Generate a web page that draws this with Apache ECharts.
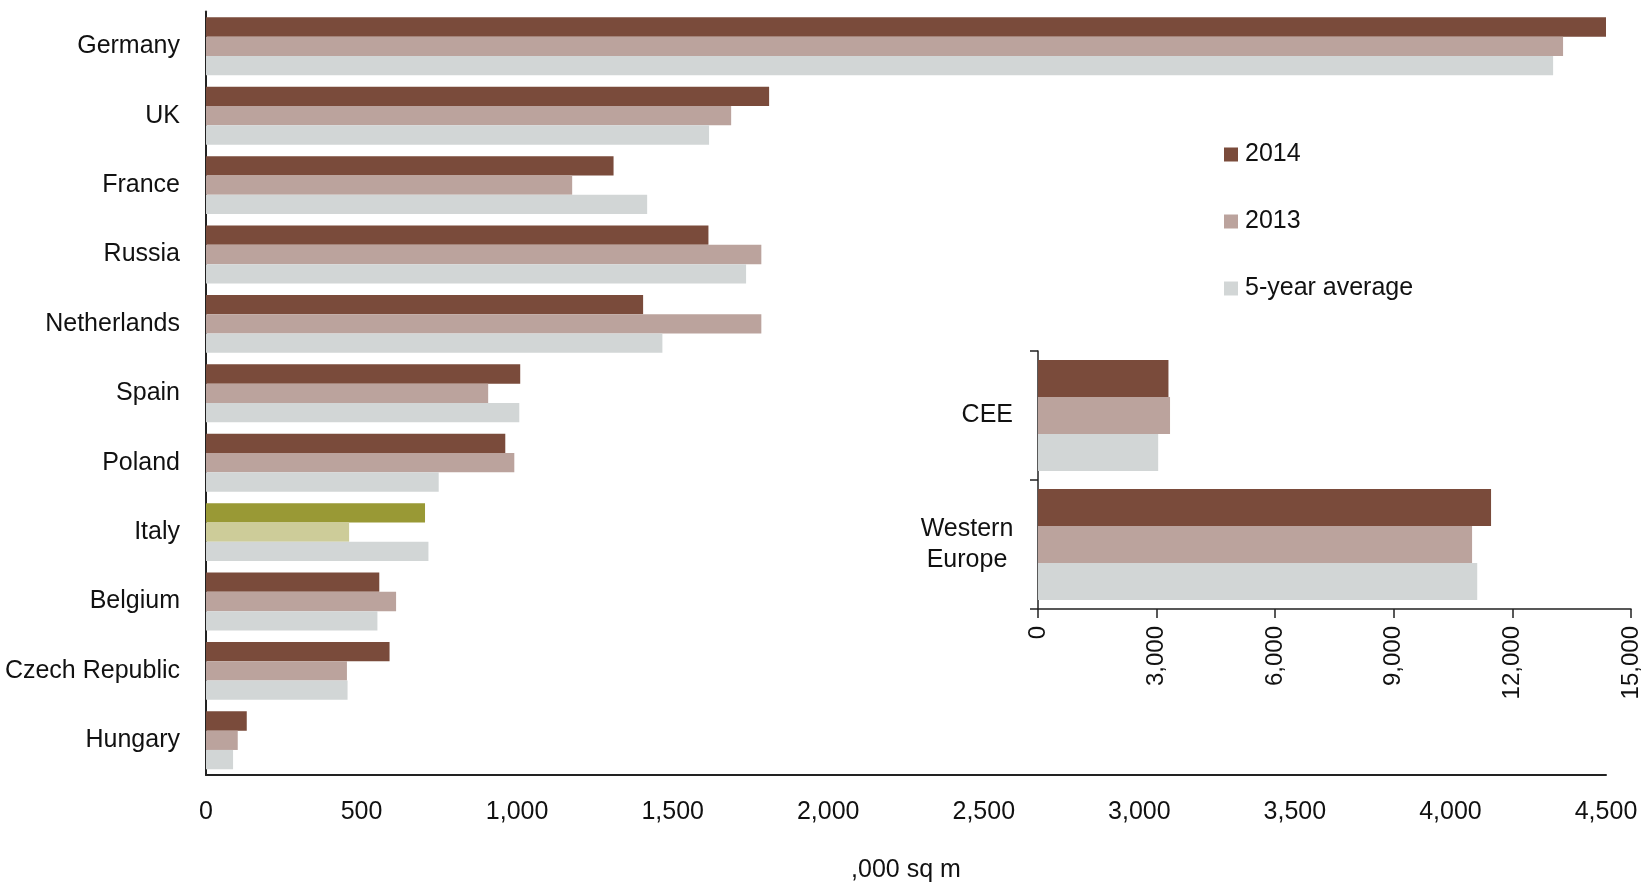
<!DOCTYPE html>
<html>
<head>
<meta charset="utf-8">
<title>Take-up by country</title>
<script src="https://cdn.jsdelivr.net/npm/echarts@6/dist/echarts.min.js"></script>
<style>
  html, body { margin: 0; padding: 0; background: #fff; }
  #chart { width: 1651px; height: 886px; }
</style>
</head>
<body>
<div id="chart"></div>
<script>
// Countries, top to bottom
const categories = ['Germany', 'UK', 'France', 'Russia', 'Netherlands', 'Spain', 'Poland', 'Italy', 'Belgium', 'Czech Republic', 'Hungary'];
// ,000 sq m
const values2014 = [4500, 1810, 1310, 1615, 1405, 1010, 962, 704, 557, 590, 131];
const values2013 = [4362, 1688, 1177, 1785, 1785, 907, 991, 460, 611, 453, 102];
const valuesAvg = [4330, 1617, 1418, 1736, 1467, 1007, 748, 715, 551, 455, 87];

// Regional totals
const regions = ['CEE', 'Western\nEurope'];
const region2014 = [3300, 11460];
const region2013 = [3340, 10980];
const regionAvg = [3040, 11110];

const seriesNames = ['2014', '2013', '5-year average'];
const mainTicks = { min: 0, max: 4500, interval: 500 };
const regionTicks = { min: 0, max: 15000, interval: 3000 };
const highlighted = 'Italy';

const FONT = "'Liberation Sans', Arial, sans-serif";
const FS = 25;
const COLORS = ['#7a4b3b', '#bba39d', '#d2d6d6'];
const HIGHLIGHT_COLORS = ['#999935', '#cdcc99', '#d2d6d6'];
const AXIS = '#222';
const TEXT = '#111';

const fmt = v => Number(v).toLocaleString('en-US');

function countryData(values, seriesIdx) {
  return values.map((v, i) => categories[i] === highlighted
    ? { value: v, itemStyle: { color: HIGHLIGHT_COLORS[seriesIdx] } }
    : v);
}

const chart = echarts.init(document.getElementById('chart'), null, { renderer: 'canvas' });

const mainSeries = [values2014, values2013, valuesAvg].map((vals, k) => ({
  name: seriesNames[k],
  type: 'bar',
  xAxisIndex: 0,
  yAxisIndex: 0,
  data: countryData(vals, k),
  itemStyle: { color: COLORS[k] },
  barGap: '0%',
  barCategoryGap: '16.5%',
  clip: false,
  silent: true
}));

const regionSeries = [region2014, region2013, regionAvg].map((vals, k) => ({
  name: seriesNames[k],
  type: 'bar',
  xAxisIndex: 1,
  yAxisIndex: 1,
  data: vals,
  itemStyle: { color: COLORS[k] },
  barGap: '0%',
  barCategoryGap: '14%',
  silent: true
}));

chart.setOption({
  animation: false,
  backgroundColor: '#fff',
  textStyle: { fontFamily: FONT, color: TEXT },
  legend: {
    data: seriesNames,
    orient: 'vertical',
    left: 1219,
    top: 137,
    icon: 'rect',
    itemWidth: 14,
    itemHeight: 14,
    itemGap: 42,
    textStyle: { fontFamily: FONT, fontSize: FS, color: TEXT, padding: [0, 0, 0, 2] },
    selectedMode: false
  },
  grid: [
    { left: 206, right: 45, top: 11.6, bottom: 111, containLabel: false, outerBoundsMode: 'none' },
    { left: 1038, right: 20, top: 351, bottom: 277, containLabel: false, outerBoundsMode: 'none' }
  ],
  xAxis: [
    {
      type: 'value',
      gridIndex: 0,
      min: mainTicks.min,
      max: mainTicks.max,
      interval: mainTicks.interval,
      name: ',000 sq m',
      nameLocation: 'middle',
      nameGap: 83,
      nameTextStyle: { fontFamily: FONT, fontSize: FS, color: TEXT },
      axisLine: { show: true, lineStyle: { color: AXIS, width: 2 } },
      axisTick: { show: false },
      splitLine: { show: false },
      axisLabel: { formatter: fmt, fontFamily: FONT, fontSize: FS, color: TEXT, margin: 25 }
    },
    {
      type: 'value',
      gridIndex: 1,
      min: regionTicks.min,
      max: regionTicks.max,
      interval: regionTicks.interval,
      axisLine: { show: true, lineStyle: { color: AXIS, width: 1.5 } },
      axisTick: { show: true, length: 9, lineStyle: { color: AXIS, width: 1.5 } },
      splitLine: { show: false },
      axisLabel: { formatter: fmt, rotate: 90, interval: 0, fontFamily: FONT, fontSize: 24, color: TEXT, margin: 17 }
    }
  ],
  yAxis: [
    {
      type: 'category',
      gridIndex: 0,
      data: categories,
      inverse: true,
      axisLine: { show: true, lineStyle: { color: AXIS, width: 2 } },
      axisTick: { show: false },
      axisLabel: { fontFamily: FONT, fontSize: FS, color: TEXT, margin: 26 }
    },
    {
      type: 'category',
      gridIndex: 1,
      data: regions,
      inverse: true,
      axisLine: { show: true, lineStyle: { color: AXIS, width: 1.5 } },
      axisTick: { show: true, length: 8, lineStyle: { color: AXIS, width: 1.5 } },
      axisLabel: {
        margin: 25,
        fontFamily: FONT,
        fontSize: FS,
        color: TEXT,
        lineHeight: 31,
        formatter: v => v.indexOf('\n') < 0 ? v : v.split('\n').map(l => '{c|' + l + '}').join('\n'),
        rich: { c: { width: 92, align: 'center', fontFamily: FONT, fontSize: FS, color: TEXT, lineHeight: 31 } }
      }
    }
  ],
  series: mainSeries.concat(regionSeries)
});
</script>
</body>
</html>
